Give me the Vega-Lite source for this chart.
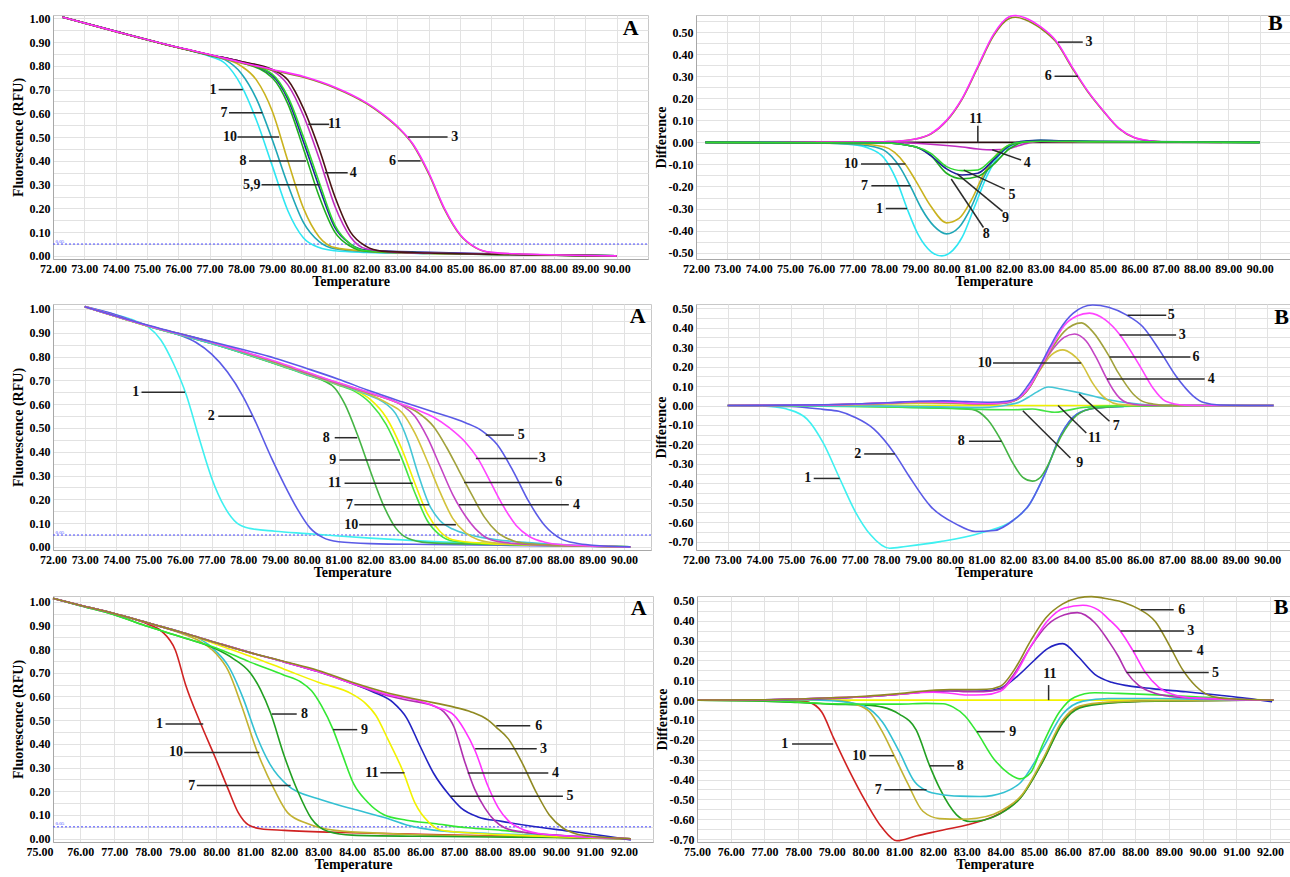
{
"$schema":"https://vega.github.io/schema/vega-lite/v6.json",
"background":"white",
"padding":{"left":10,"top":11,"right":0,"bottom":0},
"spacing":12,
"config":{
"font":"Liberation Serif",
"view":{"stroke":"#c8c8c8","strokeWidth":1},
"axis":{"labelFont":"Liberation Serif","labelFontWeight":"bold","labelFontSize":12,"labelColor":"#000","titleFont":"Liberation Serif","titleFontWeight":"bold","titleFontSize":14,"titleColor":"#000","gridColor":"#e2e2e2","gridWidth":1,"domainColor":"#a8a8a8","ticks":false,"labelPadding":3,"labelOverlap":false},
"axisX":{"titlePadding":0,"labelPadding":4,"labelFlush":false},
"text":{"font":"Liberation Serif","fontWeight":"bold"}
},
"resolve":{"scale":{"x":"independent","y":"independent","color":"independent"}},
"datasets":{
"a1":[
{"s":"1","t":72.3,"v":1.005},{"s":"1","t":74,"v":0.945},{"s":"1","t":75,"v":0.91},{"s":"1","t":76,"v":0.877},{"s":"1","t":77,"v":0.84},{"s":"1","t":77.5,"v":0.81},{"s":"1","t":78,"v":0.72},{"s":"1","t":78.5,"v":0.57},{"s":"1","t":79,"v":0.38},{"s":"1","t":79.5,"v":0.19},{"s":"1","t":80,"v":0.075},{"s":"1","t":80.5,"v":0.035},{"s":"1","t":81,"v":0.022},{"s":"1","t":82,"v":0.015},{"s":"1","t":84,"v":0.01},{"s":"1","t":87,"v":0.005},{"s":"1","t":90,"v":0},
{"s":"7","t":72.3,"v":1.005},{"s":"7","t":74,"v":0.945},{"s":"7","t":76,"v":0.877},{"s":"7","t":77,"v":0.843},{"s":"7","t":77.5,"v":0.825},{"s":"7","t":78,"v":0.77},{"s":"7","t":78.5,"v":0.66},{"s":"7","t":79,"v":0.49},{"s":"7","t":79.5,"v":0.3},{"s":"7","t":80,"v":0.14},{"s":"7","t":80.5,"v":0.06},{"s":"7","t":81,"v":0.03},{"s":"7","t":82,"v":0.018},{"s":"7","t":84,"v":0.01},{"s":"7","t":87,"v":0.005},{"s":"7","t":90,"v":0},
{"s":"10","t":72.3,"v":1.005},{"s":"10","t":74,"v":0.945},{"s":"10","t":76,"v":0.877},{"s":"10","t":77,"v":0.845},{"s":"10","t":78,"v":0.8},{"s":"10","t":78.5,"v":0.74},{"s":"10","t":79,"v":0.61},{"s":"10","t":79.5,"v":0.4},{"s":"10","t":80,"v":0.2},{"s":"10","t":80.5,"v":0.08},{"s":"10","t":81,"v":0.035},{"s":"10","t":82,"v":0.02},{"s":"10","t":84,"v":0.01},{"s":"10","t":87,"v":0.005},{"s":"10","t":90,"v":0},
{"s":"8","t":72.3,"v":1.005},{"s":"8","t":74,"v":0.945},{"s":"8","t":76,"v":0.877},{"s":"8","t":77,"v":0.846},{"s":"8","t":78,"v":0.815},{"s":"8","t":79,"v":0.75},{"s":"8","t":79.5,"v":0.64},{"s":"8","t":80,"v":0.45},{"s":"8","t":80.5,"v":0.25},{"s":"8","t":81,"v":0.1},{"s":"8","t":81.5,"v":0.04},{"s":"8","t":82,"v":0.02},{"s":"8","t":84,"v":0.012},{"s":"8","t":87,"v":0.005},{"s":"8","t":90,"v":0},
{"s":"9","t":72.3,"v":1.005},{"s":"9","t":74,"v":0.945},{"s":"9","t":76,"v":0.877},{"s":"9","t":77,"v":0.846},{"s":"9","t":78,"v":0.817},{"s":"9","t":79,"v":0.76},{"s":"9","t":79.5,"v":0.66},{"s":"9","t":80,"v":0.48},{"s":"9","t":80.5,"v":0.29},{"s":"9","t":81,"v":0.12},{"s":"9","t":81.5,"v":0.05},{"s":"9","t":82,"v":0.025},{"s":"9","t":84,"v":0.015},{"s":"9","t":87,"v":0.006},{"s":"9","t":90,"v":0},
{"s":"5","t":72.3,"v":1.005},{"s":"5","t":74,"v":0.945},{"s":"5","t":76,"v":0.877},{"s":"5","t":77,"v":0.846},{"s":"5","t":78,"v":0.817},{"s":"5","t":79,"v":0.765},{"s":"5","t":79.5,"v":0.67},{"s":"5","t":80,"v":0.5},{"s":"5","t":80.5,"v":0.31},{"s":"5","t":81,"v":0.13},{"s":"5","t":81.5,"v":0.05},{"s":"5","t":82,"v":0.022},{"s":"5","t":84,"v":0.012},{"s":"5","t":87,"v":0.005},{"s":"5","t":90,"v":0},
{"s":"4","t":72.3,"v":1.005},{"s":"4","t":74,"v":0.945},{"s":"4","t":76,"v":0.877},{"s":"4","t":77,"v":0.847},{"s":"4","t":78,"v":0.818},{"s":"4","t":79,"v":0.78},{"s":"4","t":79.5,"v":0.72},{"s":"4","t":80,"v":0.59},{"s":"4","t":80.5,"v":0.41},{"s":"4","t":81,"v":0.21},{"s":"4","t":81.5,"v":0.08},{"s":"4","t":82,"v":0.03},{"s":"4","t":83,"v":0.015},{"s":"4","t":85,"v":0.01},{"s":"4","t":87,"v":0.005},{"s":"4","t":90,"v":0},
{"s":"11","t":72.3,"v":1.005},{"s":"11","t":74,"v":0.945},{"s":"11","t":76,"v":0.877},{"s":"11","t":77,"v":0.847},{"s":"11","t":78,"v":0.818},{"s":"11","t":79,"v":0.785},{"s":"11","t":79.5,"v":0.74},{"s":"11","t":80,"v":0.62},{"s":"11","t":80.5,"v":0.45},{"s":"11","t":81,"v":0.25},{"s":"11","t":81.5,"v":0.1},{"s":"11","t":82,"v":0.04},{"s":"11","t":82.5,"v":0.02},{"s":"11","t":84,"v":0.012},{"s":"11","t":87,"v":0.005},{"s":"11","t":90,"v":0},
{"s":"6","t":72.3,"v":1.005},{"s":"6","t":74,"v":0.944},{"s":"6","t":76,"v":0.876},{"s":"6","t":77,"v":0.846},{"s":"6","t":78,"v":0.812},{"s":"6","t":79,"v":0.782},{"s":"6","t":80,"v":0.752},{"s":"6","t":81,"v":0.707},{"s":"6","t":82,"v":0.642},{"s":"6","t":82.5,"v":0.597},{"s":"6","t":83,"v":0.542},{"s":"6","t":83.5,"v":0.467},{"s":"6","t":84,"v":0.345},{"s":"6","t":84.5,"v":0.196},{"s":"6","t":85,"v":0.088},{"s":"6","t":85.5,"v":0.034},{"s":"6","t":86,"v":0.014},{"s":"6","t":87,"v":0.007},{"s":"6","t":90,"v":0},
{"s":"3","t":72.3,"v":1.005},{"s":"3","t":74,"v":0.945},{"s":"3","t":76,"v":0.878},{"s":"3","t":77,"v":0.848},{"s":"3","t":78,"v":0.815},{"s":"3","t":79,"v":0.785},{"s":"3","t":80,"v":0.755},{"s":"3","t":81,"v":0.71},{"s":"3","t":82,"v":0.645},{"s":"3","t":82.5,"v":0.6},{"s":"3","t":83,"v":0.545},{"s":"3","t":83.5,"v":0.47},{"s":"3","t":84,"v":0.35},{"s":"3","t":84.5,"v":0.2},{"s":"3","t":85,"v":0.09},{"s":"3","t":85.5,"v":0.035},{"s":"3","t":86,"v":0.015},{"s":"3","t":87,"v":0.008},{"s":"3","t":90,"v":0}
],
"la1":[
{"t":77.29,"v":0.7,"t2":78.06,"v2":0.7},{"t":77.62,"v":0.603,"t2":78.69,"v2":0.603},{"t":77.89,"v":0.5,"t2":79.22,"v2":0.5},{"t":78.26,"v":0.4,"t2":80.08,"v2":0.4},{"t":78.66,"v":0.3,"t2":80.52,"v2":0.3},{"t":80.68,"v":0.35,"t2":81.41,"v2":0.35},{"t":80.15,"v":0.554,"t2":80.82,"v2":0.554},{"t":83.34,"v":0.5,"t2":84.6,"v2":0.5},{"t":83.01,"v":0.4,"t2":83.74,"v2":0.4}
],
"ta1":[
{"n":"1","t":77.11,"v":0.7},{"n":"7","t":77.46,"v":0.603},{"n":"10","t":77.65,"v":0.5},{"n":"8","t":78.07,"v":0.4},{"n":"5,9","t":78.35,"v":0.3},{"n":"4","t":81.59,"v":0.35},{"n":"11","t":80.99,"v":0.554},{"n":"3","t":84.83,"v":0.5},{"n":"6","t":82.84,"v":0.4}
],
"b1":[
{"s":"11","t":72.3,"v":0},{"s":"11","t":90,"v":0},
{"s":"6","t":72.3,"v":0},{"s":"6","t":77,"v":0},{"s":"6","t":78,"v":0.003},{"s":"6","t":78.5,"v":0.006},{"s":"6","t":79,"v":0.015},{"s":"6","t":79.5,"v":0.038},{"s":"6","t":80,"v":0.097},{"s":"6","t":80.5,"v":0.197},{"s":"6","t":81,"v":0.34},{"s":"6","t":81.5,"v":0.483},{"s":"6","t":82,"v":0.562},{"s":"6","t":82.2,"v":0.568},{"s":"6","t":82.5,"v":0.558},{"s":"6","t":83,"v":0.518},{"s":"6","t":83.5,"v":0.455},{"s":"6","t":84,"v":0.34},{"s":"6","t":84.5,"v":0.232},{"s":"6","t":85,"v":0.143},{"s":"6","t":85.5,"v":0.064},{"s":"6","t":86,"v":0.021},{"s":"6","t":86.5,"v":0.007},{"s":"6","t":87,"v":0.002},{"s":"6","t":88.8,"v":0},
{"s":"3","t":72.3,"v":0},{"s":"3","t":77,"v":0},{"s":"3","t":78,"v":0.003},{"s":"3","t":78.5,"v":0.006},{"s":"3","t":79,"v":0.015},{"s":"3","t":79.5,"v":0.04},{"s":"3","t":80,"v":0.1},{"s":"3","t":80.5,"v":0.2},{"s":"3","t":81,"v":0.345},{"s":"3","t":81.5,"v":0.49},{"s":"3","t":82,"v":0.57},{"s":"3","t":82.2,"v":0.576},{"s":"3","t":82.5,"v":0.566},{"s":"3","t":83,"v":0.525},{"s":"3","t":83.5,"v":0.46},{"s":"3","t":84,"v":0.345},{"s":"3","t":84.5,"v":0.235},{"s":"3","t":85,"v":0.145},{"s":"3","t":85.5,"v":0.065},{"s":"3","t":86,"v":0.022},{"s":"3","t":86.5,"v":0.007},{"s":"3","t":87,"v":0.002},{"s":"3","t":88.8,"v":0},
{"s":"4","t":72.3,"v":0},{"s":"4","t":78,"v":0},{"s":"4","t":79,"v":-0.004},{"s":"4","t":80,"v":-0.014},{"s":"4","t":80.5,"v":-0.021},{"s":"4","t":81,"v":-0.03},{"s":"4","t":81.5,"v":-0.034},{"s":"4","t":82,"v":-0.028},{"s":"4","t":82.3,"v":-0.015},{"s":"4","t":82.7,"v":0},{"s":"4","t":83,"v":0.004},{"s":"4","t":84,"v":0.003},{"s":"4","t":86,"v":0.001},{"s":"4","t":90,"v":0},
{"s":"1","t":72.3,"v":0},{"s":"1","t":76,"v":-0.003},{"s":"1","t":77,"v":-0.01},{"s":"1","t":77.5,"v":-0.025},{"s":"1","t":78,"v":-0.07},{"s":"1","t":78.4,"v":-0.17},{"s":"1","t":78.74,"v":-0.3},{"s":"1","t":79.1,"v":-0.42},{"s":"1","t":79.5,"v":-0.495},{"s":"1","t":79.85,"v":-0.515},{"s":"1","t":80.2,"v":-0.49},{"s":"1","t":80.5,"v":-0.43},{"s":"1","t":80.9,"v":-0.29},{"s":"1","t":81.3,"v":-0.15},{"s":"1","t":81.7,"v":-0.055},{"s":"1","t":82.1,"v":-0.012},{"s":"1","t":82.5,"v":0.003},{"s":"1","t":83,"v":0.008},{"s":"1","t":84,"v":0.005},{"s":"1","t":85,"v":0.002},{"s":"1","t":90,"v":0},
{"s":"7","t":72.3,"v":0},{"s":"7","t":76,"v":-0.002},{"s":"7","t":77,"v":-0.008},{"s":"7","t":77.5,"v":-0.015},{"s":"7","t":78,"v":-0.035},{"s":"7","t":78.5,"v":-0.11},{"s":"7","t":78.85,"v":-0.2},{"s":"7","t":79.2,"v":-0.3},{"s":"7","t":79.6,"v":-0.38},{"s":"7","t":80,"v":-0.415},{"s":"7","t":80.4,"v":-0.385},{"s":"7","t":80.8,"v":-0.29},{"s":"7","t":81.2,"v":-0.155},{"s":"7","t":81.6,"v":-0.06},{"s":"7","t":82,"v":-0.015},{"s":"7","t":82.5,"v":0.003},{"s":"7","t":83,"v":0.008},{"s":"7","t":85,"v":0.002},{"s":"7","t":90,"v":0},
{"s":"10","t":72.3,"v":0},{"s":"10","t":77,"v":-0.005},{"s":"10","t":78,"v":-0.02},{"s":"10","t":78.69,"v":-0.1},{"s":"10","t":79,"v":-0.17},{"s":"10","t":79.5,"v":-0.29},{"s":"10","t":80,"v":-0.365},{"s":"10","t":80.4,"v":-0.345},{"s":"10","t":80.8,"v":-0.26},{"s":"10","t":81.2,"v":-0.14},{"s":"10","t":81.6,"v":-0.055},{"s":"10","t":82,"v":-0.013},{"s":"10","t":82.5,"v":0.003},{"s":"10","t":83,"v":0.006},{"s":"10","t":85,"v":0.002},{"s":"10","t":90,"v":0},
{"s":"8","t":72.3,"v":0},{"s":"8","t":78,"v":-0.003},{"s":"8","t":79,"v":-0.02},{"s":"8","t":79.5,"v":-0.06},{"s":"8","t":80,"v":-0.14},{"s":"8","t":80.5,"v":-0.165},{"s":"8","t":81,"v":-0.155},{"s":"8","t":81.5,"v":-0.1},{"s":"8","t":82,"v":-0.03},{"s":"8","t":82.5,"v":0.003},{"s":"8","t":83,"v":0.008},{"s":"8","t":85,"v":0.003},{"s":"8","t":90,"v":0},
{"s":"9","t":72.3,"v":0},{"s":"9","t":78,"v":-0.003},{"s":"9","t":79,"v":-0.02},{"s":"9","t":79.5,"v":-0.06},{"s":"9","t":80,"v":-0.12},{"s":"9","t":80.5,"v":-0.148},{"s":"9","t":81,"v":-0.14},{"s":"9","t":81.5,"v":-0.08},{"s":"9","t":82,"v":-0.015},{"s":"9","t":82.5,"v":0.006},{"s":"9","t":83,"v":0.009},{"s":"9","t":84,"v":0.006},{"s":"9","t":90,"v":0},
{"s":"5","t":72.3,"v":0},{"s":"5","t":78,"v":-0.003},{"s":"5","t":79,"v":-0.02},{"s":"5","t":79.5,"v":-0.05},{"s":"5","t":80,"v":-0.11},{"s":"5","t":80.5,"v":-0.128},{"s":"5","t":81,"v":-0.125},{"s":"5","t":81.5,"v":-0.07},{"s":"5","t":82,"v":-0.012},{"s":"5","t":82.5,"v":0.003},{"s":"5","t":83,"v":0.005},{"s":"5","t":90,"v":0}
],
"lb1":[
{"t":83.56,"v":0.455,"t2":84.35,"v2":0.455},{"t":83.45,"v":0.3,"t2":84.2,"v2":0.3},{"t":81,"v":0,"t2":81,"v2":0.075},{"t":81.46,"v":-0.033,"t2":82.38,"v2":-0.08},{"t":80.55,"v":-0.126,"t2":81.86,"v2":-0.212},{"t":80.35,"v":-0.144,"t2":81.79,"v2":-0.313},{"t":80.15,"v":-0.166,"t2":81.18,"v2":-0.386},{"t":77.27,"v":-0.098,"t2":78.69,"v2":-0.098},{"t":77.6,"v":-0.197,"t2":78.85,"v2":-0.197},{"t":78.06,"v":-0.3,"t2":78.74,"v2":-0.3}
],
"tb1":[
{"n":"3","t":84.55,"v":0.455},{"n":"6","t":83.25,"v":0.3},{"n":"11","t":80.94,"v":0.106},{"n":"4","t":82.58,"v":-0.094},{"n":"5","t":82.09,"v":-0.239},{"n":"9","t":81.88,"v":-0.341},{"n":"8","t":81.27,"v":-0.414},{"n":"10","t":76.95,"v":-0.098},{"n":"7","t":77.38,"v":-0.197},{"n":"1","t":77.86,"v":-0.3}
],
"a2":[
{"s":"1","t":73,"v":1.01},{"s":"1","t":74,"v":0.975},{"s":"1","t":74.6,"v":0.95},{"s":"1","t":75,"v":0.925},{"s":"1","t":75.4,"v":0.87},{"s":"1","t":75.8,"v":0.77},{"s":"1","t":76.2,"v":0.64},{"s":"1","t":76.6,"v":0.46},{"s":"1","t":77,"v":0.29},{"s":"1","t":77.4,"v":0.17},{"s":"1","t":77.8,"v":0.1},{"s":"1","t":78.2,"v":0.078},{"s":"1","t":79,"v":0.066},{"s":"1","t":80,"v":0.056},{"s":"1","t":81,"v":0.046},{"s":"1","t":82,"v":0.037},{"s":"1","t":84,"v":0.022},{"s":"1","t":86,"v":0.012},{"s":"1","t":88,"v":0.006},{"s":"1","t":90.2,"v":0},
{"s":"2","t":73,"v":1.01},{"s":"2","t":74,"v":0.975},{"s":"2","t":75,"v":0.928},{"s":"2","t":76,"v":0.89},{"s":"2","t":76.5,"v":0.86},{"s":"2","t":77,"v":0.81},{"s":"2","t":77.5,"v":0.735},{"s":"2","t":78,"v":0.63},{"s":"2","t":78.3,"v":0.55},{"s":"2","t":78.9,"v":0.37},{"s":"2","t":79.3,"v":0.26},{"s":"2","t":79.7,"v":0.16},{"s":"2","t":80.1,"v":0.08},{"s":"2","t":80.5,"v":0.04},{"s":"2","t":81,"v":0.022},{"s":"2","t":82,"v":0.014},{"s":"2","t":84,"v":0.01},{"s":"2","t":88,"v":0.004},{"s":"2","t":90.2,"v":0},
{"s":"8","t":73,"v":1.01},{"s":"8","t":75,"v":0.928},{"s":"8","t":77,"v":0.855},{"s":"8","t":79,"v":0.77},{"s":"8","t":80,"v":0.725},{"s":"8","t":80.5,"v":0.7},{"s":"8","t":80.9,"v":0.665},{"s":"8","t":81.2,"v":0.6},{"s":"8","t":81.6,"v":0.47},{"s":"8","t":82,"v":0.32},{"s":"8","t":82.4,"v":0.18},{"s":"8","t":82.8,"v":0.08},{"s":"8","t":83.2,"v":0.035},{"s":"8","t":83.8,"v":0.018},{"s":"8","t":86,"v":0.01},{"s":"8","t":90.2,"v":0},
{"s":"9","t":73,"v":1.01},{"s":"9","t":75,"v":0.928},{"s":"9","t":77,"v":0.855},{"s":"9","t":79,"v":0.77},{"s":"9","t":80,"v":0.723},{"s":"9","t":81,"v":0.68},{"s":"9","t":81.5,"v":0.655},{"s":"9","t":82,"v":0.605},{"s":"9","t":82.5,"v":0.515},{"s":"9","t":83,"v":0.37},{"s":"9","t":83.4,"v":0.23},{"s":"9","t":83.8,"v":0.11},{"s":"9","t":84.2,"v":0.05},{"s":"9","t":84.6,"v":0.025},{"s":"9","t":85.5,"v":0.015},{"s":"9","t":88,"v":0.006},{"s":"9","t":90.2,"v":0},
{"s":"11","t":73,"v":1.01},{"s":"11","t":75,"v":0.928},{"s":"11","t":77,"v":0.857},{"s":"11","t":79,"v":0.773},{"s":"11","t":80,"v":0.727},{"s":"11","t":81,"v":0.683},{"s":"11","t":81.5,"v":0.66},{"s":"11","t":82,"v":0.62},{"s":"11","t":82.5,"v":0.545},{"s":"11","t":83,"v":0.41},{"s":"11","t":83.4,"v":0.27},{"s":"11","t":83.8,"v":0.14},{"s":"11","t":84.2,"v":0.065},{"s":"11","t":84.6,"v":0.03},{"s":"11","t":85.5,"v":0.016},{"s":"11","t":88,"v":0.006},{"s":"11","t":90.2,"v":0},
{"s":"7","t":73,"v":1.01},{"s":"7","t":75,"v":0.928},{"s":"7","t":77,"v":0.855},{"s":"7","t":79,"v":0.772},{"s":"7","t":80,"v":0.725},{"s":"7","t":81,"v":0.683},{"s":"7","t":82,"v":0.635},{"s":"7","t":82.4,"v":0.61},{"s":"7","t":82.8,"v":0.56},{"s":"7","t":83.2,"v":0.44},{"s":"7","t":83.5,"v":0.31},{"s":"7","t":83.85,"v":0.18},{"s":"7","t":84.2,"v":0.11},{"s":"7","t":84.6,"v":0.075},{"s":"7","t":85,"v":0.055},{"s":"7","t":85.5,"v":0.04},{"s":"7","t":86,"v":0.03},{"s":"7","t":87,"v":0.018},{"s":"7","t":88,"v":0.01},{"s":"7","t":90.2,"v":0},
{"s":"10","t":73,"v":1.01},{"s":"10","t":75,"v":0.93},{"s":"10","t":77,"v":0.86},{"s":"10","t":79,"v":0.775},{"s":"10","t":80,"v":0.728},{"s":"10","t":81,"v":0.685},{"s":"10","t":82,"v":0.64},{"s":"10","t":82.6,"v":0.6},{"s":"10","t":83,"v":0.565},{"s":"10","t":83.4,"v":0.48},{"s":"10","t":83.8,"v":0.36},{"s":"10","t":84.2,"v":0.23},{"s":"10","t":84.6,"v":0.12},{"s":"10","t":85,"v":0.06},{"s":"10","t":85.4,"v":0.03},{"s":"10","t":86,"v":0.016},{"s":"10","t":88,"v":0.006},{"s":"10","t":90.2,"v":0},
{"s":"4","t":73,"v":1.01},{"s":"4","t":75,"v":0.93},{"s":"4","t":77,"v":0.86},{"s":"4","t":79,"v":0.777},{"s":"4","t":80,"v":0.73},{"s":"4","t":81,"v":0.686},{"s":"4","t":82,"v":0.645},{"s":"4","t":83,"v":0.595},{"s":"4","t":83.4,"v":0.55},{"s":"4","t":83.8,"v":0.46},{"s":"4","t":84.2,"v":0.34},{"s":"4","t":84.6,"v":0.22},{"s":"4","t":85,"v":0.13},{"s":"4","t":85.4,"v":0.065},{"s":"4","t":85.8,"v":0.03},{"s":"4","t":86.5,"v":0.015},{"s":"4","t":88,"v":0.006},{"s":"4","t":90.2,"v":0},
{"s":"6","t":73,"v":1.01},{"s":"6","t":75,"v":0.93},{"s":"6","t":77,"v":0.86},{"s":"6","t":79,"v":0.777},{"s":"6","t":80,"v":0.732},{"s":"6","t":81,"v":0.688},{"s":"6","t":82,"v":0.646},{"s":"6","t":83,"v":0.598},{"s":"6","t":83.5,"v":0.565},{"s":"6","t":84,"v":0.505},{"s":"6","t":84.4,"v":0.42},{"s":"6","t":84.8,"v":0.32},{"s":"6","t":85.2,"v":0.22},{"s":"6","t":85.6,"v":0.125},{"s":"6","t":86,"v":0.062},{"s":"6","t":86.5,"v":0.026},{"s":"6","t":87,"v":0.013},{"s":"6","t":88,"v":0.007},{"s":"6","t":90.2,"v":0},
{"s":"3","t":73,"v":1.01},{"s":"3","t":75,"v":0.93},{"s":"3","t":77,"v":0.86},{"s":"3","t":79,"v":0.78},{"s":"3","t":80,"v":0.735},{"s":"3","t":81,"v":0.69},{"s":"3","t":82,"v":0.648},{"s":"3","t":83,"v":0.6},{"s":"3","t":83.5,"v":0.575},{"s":"3","t":84,"v":0.545},{"s":"3","t":84.5,"v":0.5},{"s":"3","t":85,"v":0.44},{"s":"3","t":85.4,"v":0.37},{"s":"3","t":85.8,"v":0.27},{"s":"3","t":86.2,"v":0.17},{"s":"3","t":86.6,"v":0.09},{"s":"3","t":87,"v":0.045},{"s":"3","t":87.5,"v":0.02},{"s":"3","t":88,"v":0.01},{"s":"3","t":90.2,"v":0},
{"s":"5","t":73,"v":1.01},{"s":"5","t":75,"v":0.932},{"s":"5","t":77,"v":0.862},{"s":"5","t":79,"v":0.793},{"s":"5","t":80,"v":0.75},{"s":"5","t":81,"v":0.705},{"s":"5","t":82,"v":0.655},{"s":"5","t":83,"v":0.61},{"s":"5","t":84,"v":0.567},{"s":"5","t":85,"v":0.522},{"s":"5","t":85.5,"v":0.49},{"s":"5","t":86,"v":0.43},{"s":"5","t":86.5,"v":0.32},{"s":"5","t":87,"v":0.19},{"s":"5","t":87.5,"v":0.09},{"s":"5","t":88,"v":0.035},{"s":"5","t":88.5,"v":0.015},{"s":"5","t":89,"v":0.007},{"s":"5","t":90.2,"v":0}
],
"la2":[
{"t":74.79,"v":0.65,"t2":76.16,"v2":0.65},{"t":77.21,"v":0.549,"t2":78.28,"v2":0.549},{"t":80.88,"v":0.459,"t2":81.59,"v2":0.459},{"t":81.03,"v":0.365,"t2":82.94,"v2":0.365},{"t":81.19,"v":0.268,"t2":83.34,"v2":0.268},{"t":81.5,"v":0.177,"t2":83.86,"v2":0.177},{"t":81.65,"v":0.093,"t2":84.7,"v2":0.093},{"t":85.64,"v":0.47,"t2":86.53,"v2":0.47},{"t":85.33,"v":0.372,"t2":87.27,"v2":0.372},{"t":84.96,"v":0.271,"t2":87.74,"v2":0.271},{"t":84.8,"v":0.177,"t2":88.26,"v2":0.177}
],
"ta2":[
{"n":"1","t":74.61,"v":0.65},{"n":"2","t":76.99,"v":0.549},{"n":"8","t":80.61,"v":0.459},{"n":"9","t":80.82,"v":0.365},{"n":"11","t":80.88,"v":0.268},{"n":"7","t":81.35,"v":0.177},{"n":"10","t":81.4,"v":0.093},{"n":"5","t":86.76,"v":0.47},{"n":"3","t":87.42,"v":0.372},{"n":"6","t":87.94,"v":0.271},{"n":"4","t":88.5,"v":0.177}
],
"b2":[
{"s":"11","t":73,"v":0},{"s":"11","t":90.2,"v":0},
{"s":"1","t":73,"v":0},{"s":"1","t":74,"v":-0.002},{"s":"1","t":74.5,"v":-0.008},{"s":"1","t":74.9,"v":-0.02},{"s":"1","t":75.5,"v":-0.07},{"s":"1","t":76,"v":-0.19},{"s":"1","t":76.5,"v":-0.365},{"s":"1","t":77,"v":-0.54},{"s":"1","t":77.5,"v":-0.665},{"s":"1","t":78.1,"v":-0.734},{"s":"1","t":78.6,"v":-0.725},{"s":"1","t":79.7,"v":-0.7},{"s":"1","t":81,"v":-0.654},{"s":"1","t":82,"v":-0.59},{"s":"1","t":82.5,"v":-0.51},{"s":"1","t":83,"v":-0.35},{"s":"1","t":83.5,"v":-0.15},{"s":"1","t":84,"v":-0.045},{"s":"1","t":84.6,"v":-0.013},{"s":"1","t":85.5,"v":-0.005},{"s":"1","t":87,"v":0},{"s":"1","t":90.2,"v":0},
{"s":"2","t":73,"v":0},{"s":"2","t":75,"v":-0.005},{"s":"2","t":76,"v":-0.02},{"s":"2","t":76.5,"v":-0.03},{"s":"2","t":77,"v":-0.06},{"s":"2","t":77.6,"v":-0.12},{"s":"2","t":78.27,"v":-0.25},{"s":"2","t":78.7,"v":-0.36},{"s":"2","t":79.4,"v":-0.52},{"s":"2","t":80.2,"v":-0.61},{"s":"2","t":80.8,"v":-0.648},{"s":"2","t":81.4,"v":-0.643},{"s":"2","t":82,"v":-0.59},{"s":"2","t":82.5,"v":-0.51},{"s":"2","t":83,"v":-0.35},{"s":"2","t":83.5,"v":-0.15},{"s":"2","t":84,"v":-0.045},{"s":"2","t":84.6,"v":-0.013},{"s":"2","t":85.5,"v":-0.004},{"s":"2","t":87,"v":0},{"s":"2","t":90.2,"v":0},
{"s":"8","t":73,"v":0},{"s":"8","t":77,"v":-0.003},{"s":"8","t":79,"v":-0.01},{"s":"8","t":80,"v":-0.013},{"s":"8","t":80.7,"v":-0.02},{"s":"8","t":81.2,"v":-0.075},{"s":"8","t":81.63,"v":-0.184},{"s":"8","t":82,"v":-0.3},{"s":"8","t":82.3,"v":-0.37},{"s":"8","t":82.6,"v":-0.389},{"s":"8","t":82.85,"v":-0.37},{"s":"8","t":83.05,"v":-0.32},{"s":"8","t":83.5,"v":-0.16},{"s":"8","t":84,"v":-0.05},{"s":"8","t":84.5,"v":-0.015},{"s":"8","t":85.5,"v":-0.004},{"s":"8","t":87,"v":0},{"s":"8","t":90.2,"v":0},
{"s":"9","t":73,"v":0},{"s":"9","t":76,"v":-0.003},{"s":"9","t":78,"v":-0.008},{"s":"9","t":80,"v":-0.015},{"s":"9","t":81,"v":-0.02},{"s":"9","t":82,"v":-0.022},{"s":"9","t":82.6,"v":-0.018},{"s":"9","t":83,"v":-0.028},{"s":"9","t":83.3,"v":-0.035},{"s":"9","t":83.7,"v":-0.025},{"s":"9","t":84.2,"v":-0.01},{"s":"9","t":85,"v":-0.003},{"s":"9","t":90.2,"v":0},
{"s":"7","t":73,"v":0},{"s":"7","t":78,"v":-0.003},{"s":"7","t":80,"v":-0.008},{"s":"7","t":81,"v":-0.01},{"s":"7","t":81.5,"v":-0.005},{"s":"7","t":81.8,"v":0.003},{"s":"7","t":82.2,"v":0.018},{"s":"7","t":82.5,"v":0.045},{"s":"7","t":82.75,"v":0.07},{"s":"7","t":83.1,"v":0.095},{"s":"7","t":83.5,"v":0.085},{"s":"7","t":84.1,"v":0.065},{"s":"7","t":84.6,"v":0.045},{"s":"7","t":85,"v":0.03},{"s":"7","t":85.8,"v":0.01},{"s":"7","t":86.5,"v":0.002},{"s":"7","t":90.2,"v":0},
{"s":"10","t":73,"v":0},{"s":"10","t":76,"v":0.002},{"s":"10","t":78,"v":0.008},{"s":"10","t":79,"v":0.012},{"s":"10","t":80,"v":0.01},{"s":"10","t":81,"v":0.005},{"s":"10","t":81.6,"v":0.01},{"s":"10","t":82.1,"v":0.03},{"s":"10","t":82.5,"v":0.09},{"s":"10","t":82.83,"v":0.18},{"s":"10","t":83.2,"v":0.26},{"s":"10","t":83.56,"v":0.286},{"s":"10","t":83.85,"v":0.265},{"s":"10","t":84.14,"v":0.218},{"s":"10","t":84.5,"v":0.115},{"s":"10","t":84.75,"v":0.06},{"s":"10","t":84.95,"v":0.03},{"s":"10","t":85.3,"v":0.006},{"s":"10","t":86,"v":0},{"s":"10","t":90.2,"v":0},
{"s":"4","t":73,"v":0},{"s":"4","t":76,"v":0.003},{"s":"4","t":78,"v":0.012},{"s":"4","t":79,"v":0.018},{"s":"4","t":80,"v":0.015},{"s":"4","t":81,"v":0.008},{"s":"4","t":81.6,"v":0.01},{"s":"4","t":82.1,"v":0.03},{"s":"4","t":82.5,"v":0.09},{"s":"4","t":82.83,"v":0.185},{"s":"4","t":83.2,"v":0.28},{"s":"4","t":83.6,"v":0.35},{"s":"4","t":83.93,"v":0.368},{"s":"4","t":84.3,"v":0.33},{"s":"4","t":84.6,"v":0.25},{"s":"4","t":84.95,"v":0.136},{"s":"4","t":85.15,"v":0.08},{"s":"4","t":85.35,"v":0.038},{"s":"4","t":85.6,"v":0.013},{"s":"4","t":86,"v":0.003},{"s":"4","t":87,"v":0},{"s":"4","t":90.2,"v":0},
{"s":"6","t":73,"v":0},{"s":"6","t":76,"v":0.003},{"s":"6","t":78,"v":0.012},{"s":"6","t":79,"v":0.018},{"s":"6","t":80,"v":0.015},{"s":"6","t":81,"v":0.008},{"s":"6","t":81.6,"v":0.012},{"s":"6","t":82.1,"v":0.03},{"s":"6","t":82.5,"v":0.09},{"s":"6","t":82.83,"v":0.185},{"s":"6","t":83.2,"v":0.29},{"s":"6","t":83.6,"v":0.38},{"s":"6","t":84.15,"v":0.425},{"s":"6","t":84.5,"v":0.38},{"s":"6","t":85.03,"v":0.25},{"s":"6","t":85.3,"v":0.17},{"s":"6","t":85.56,"v":0.105},{"s":"6","t":85.8,"v":0.055},{"s":"6","t":86,"v":0.028},{"s":"6","t":86.4,"v":0.008},{"s":"6","t":87,"v":0},{"s":"6","t":90.2,"v":0},
{"s":"3","t":73,"v":0},{"s":"3","t":76,"v":0.003},{"s":"3","t":78,"v":0.013},{"s":"3","t":79,"v":0.02},{"s":"3","t":80,"v":0.017},{"s":"3","t":81,"v":0.01},{"s":"3","t":81.6,"v":0.013},{"s":"3","t":82.1,"v":0.032},{"s":"3","t":82.5,"v":0.095},{"s":"3","t":82.83,"v":0.19},{"s":"3","t":83.2,"v":0.3},{"s":"3","t":83.6,"v":0.41},{"s":"3","t":84,"v":0.46},{"s":"3","t":84.4,"v":0.475},{"s":"3","t":84.9,"v":0.44},{"s":"3","t":85.35,"v":0.365},{"s":"3","t":85.7,"v":0.28},{"s":"3","t":86,"v":0.2},{"s":"3","t":86.4,"v":0.09},{"s":"3","t":86.8,"v":0.022},{"s":"3","t":87.4,"v":0.002},{"s":"3","t":88,"v":0},{"s":"3","t":90.2,"v":0},
{"s":"5","t":73,"v":0},{"s":"5","t":76,"v":0.004},{"s":"5","t":78,"v":0.014},{"s":"5","t":79,"v":0.022},{"s":"5","t":79.8,"v":0.024},{"s":"5","t":80.5,"v":0.02},{"s":"5","t":81.3,"v":0.017},{"s":"5","t":81.8,"v":0.022},{"s":"5","t":82.1,"v":0.035},{"s":"5","t":82.45,"v":0.1},{"s":"5","t":82.83,"v":0.2},{"s":"5","t":83.15,"v":0.3},{"s":"5","t":83.46,"v":0.39},{"s":"5","t":83.88,"v":0.474},{"s":"5","t":84.5,"v":0.517},{"s":"5","t":85,"v":0.505},{"s":"5","t":85.56,"v":0.466},{"s":"5","t":86.08,"v":0.405},{"s":"5","t":86.6,"v":0.286},{"s":"5","t":87.13,"v":0.15},{"s":"5","t":87.66,"v":0.05},{"s":"5","t":88,"v":0.015},{"s":"5","t":88.5,"v":0.003},{"s":"5","t":90.2,"v":0}
],
"lb2":[
{"t":85.6,"v":0.464,"t2":86.82,"v2":0.464},{"t":85.35,"v":0.363,"t2":87.13,"v2":0.363},{"t":85.03,"v":0.249,"t2":87.58,"v2":0.249},{"t":84.95,"v":0.136,"t2":88.03,"v2":0.136},{"t":81.36,"v":0.218,"t2":84.14,"v2":0.218},{"t":84.07,"v":0.06,"t2":85.03,"v2":-0.081},{"t":83.41,"v":0,"t2":84.3,"v2":-0.141},{"t":82.3,"v":-0.027,"t2":83.8,"v2":-0.27},{"t":80.6,"v":-0.184,"t2":81.63,"v2":-0.184},{"t":77.3,"v":-0.249,"t2":78.27,"v2":-0.249},{"t":75.71,"v":-0.375,"t2":76.53,"v2":-0.375}
],
"tb2":[
{"n":"5","t":86.98,"v":0.464},{"n":"3","t":87.32,"v":0.363},{"n":"6","t":87.76,"v":0.249},{"n":"4","t":88.24,"v":0.136},{"n":"10","t":81.1,"v":0.218},{"n":"7","t":85.24,"v":-0.104},{"n":"11","t":84.56,"v":-0.167},{"n":"9","t":84.09,"v":-0.295},{"n":"8","t":80.36,"v":-0.184},{"n":"2","t":77.1,"v":-0.249},{"n":"1","t":75.52,"v":-0.375}
],
"a3":[
{"s":"1","t":75.2,"v":1.014},{"s":"1","t":76,"v":0.985},{"s":"1","t":77,"v":0.95},{"s":"1","t":78,"v":0.905},{"s":"1","t":78.4,"v":0.875},{"s":"1","t":78.8,"v":0.795},{"s":"1","t":79.1,"v":0.65},{"s":"1","t":79.55,"v":0.484},{"s":"1","t":79.95,"v":0.35},{"s":"1","t":80.35,"v":0.21},{"s":"1","t":80.65,"v":0.11},{"s":"1","t":80.95,"v":0.058},{"s":"1","t":81.3,"v":0.042},{"s":"1","t":82,"v":0.035},{"s":"1","t":84,"v":0.025},{"s":"1","t":86,"v":0.018},{"s":"1","t":88,"v":0.012},{"s":"1","t":90,"v":0.006},{"s":"1","t":92.2,"v":0},
{"s":"10","t":75.2,"v":1.014},{"s":"10","t":76,"v":0.985},{"s":"10","t":77,"v":0.95},{"s":"10","t":78,"v":0.91},{"s":"10","t":79,"v":0.865},{"s":"10","t":79.5,"v":0.835},{"s":"10","t":80,"v":0.78},{"s":"10","t":80.35,"v":0.71},{"s":"10","t":80.75,"v":0.56},{"s":"10","t":81.2,"v":0.37},{"s":"10","t":81.7,"v":0.21},{"s":"10","t":82.1,"v":0.11},{"s":"10","t":82.7,"v":0.063},{"s":"10","t":83.5,"v":0.035},{"s":"10","t":85,"v":0.022},{"s":"10","t":88,"v":0.01},{"s":"10","t":92.2,"v":0},
{"s":"7","t":75.2,"v":1.014},{"s":"7","t":76,"v":0.985},{"s":"7","t":77,"v":0.95},{"s":"7","t":78,"v":0.91},{"s":"7","t":79,"v":0.87},{"s":"7","t":79.5,"v":0.845},{"s":"7","t":80,"v":0.79},{"s":"7","t":80.35,"v":0.73},{"s":"7","t":80.8,"v":0.59},{"s":"7","t":81.2,"v":0.43},{"s":"7","t":81.6,"v":0.31},{"s":"7","t":82.1,"v":0.225},{"s":"7","t":83,"v":0.168},{"s":"7","t":84,"v":0.126},{"s":"7","t":85,"v":0.087},{"s":"7","t":85.6,"v":0.058},{"s":"7","t":86.4,"v":0.036},{"s":"7","t":88,"v":0.022},{"s":"7","t":90,"v":0.012},{"s":"7","t":92.2,"v":0},
{"s":"8","t":75.2,"v":1.014},{"s":"8","t":76,"v":0.983},{"s":"8","t":77,"v":0.945},{"s":"8","t":78,"v":0.895},{"s":"8","t":79,"v":0.85},{"s":"8","t":80,"v":0.8},{"s":"8","t":80.5,"v":0.76},{"s":"8","t":81,"v":0.7},{"s":"8","t":81.3,"v":0.63},{"s":"8","t":81.6,"v":0.53},{"s":"8","t":82,"v":0.35},{"s":"8","t":82.4,"v":0.2},{"s":"8","t":82.8,"v":0.085},{"s":"8","t":83.3,"v":0.03},{"s":"8","t":84,"v":0.015},{"s":"8","t":86,"v":0.01},{"s":"8","t":90,"v":0.005},{"s":"8","t":92.2,"v":0},
{"s":"9","t":75.2,"v":1.014},{"s":"9","t":76,"v":0.983},{"s":"9","t":77,"v":0.945},{"s":"9","t":78,"v":0.895},{"s":"9","t":79,"v":0.85},{"s":"9","t":80,"v":0.805},{"s":"9","t":81,"v":0.745},{"s":"9","t":82,"v":0.69},{"s":"9","t":82.5,"v":0.66},{"s":"9","t":82.8,"v":0.625},{"s":"9","t":83.1,"v":0.56},{"s":"9","t":83.44,"v":0.46},{"s":"9","t":83.7,"v":0.36},{"s":"9","t":84.05,"v":0.23},{"s":"9","t":84.45,"v":0.155},{"s":"9","t":84.95,"v":0.1},{"s":"9","t":85.6,"v":0.078},{"s":"9","t":86.4,"v":0.064},{"s":"9","t":87.4,"v":0.046},{"s":"9","t":88.4,"v":0.035},{"s":"9","t":89.4,"v":0.021},{"s":"9","t":92.2,"v":0},
{"s":"11","t":75.2,"v":1.014},{"s":"11","t":76,"v":0.985},{"s":"11","t":77,"v":0.95},{"s":"11","t":78,"v":0.91},{"s":"11","t":79,"v":0.87},{"s":"11","t":80,"v":0.82},{"s":"11","t":81,"v":0.77},{"s":"11","t":82,"v":0.715},{"s":"11","t":83,"v":0.66},{"s":"11","t":84,"v":0.61},{"s":"11","t":84.4,"v":0.57},{"s":"11","t":84.7,"v":0.52},{"s":"11","t":85.05,"v":0.42},{"s":"11","t":85.5,"v":0.283},{"s":"11","t":85.85,"v":0.15},{"s":"11","t":86.25,"v":0.07},{"s":"11","t":86.6,"v":0.037},{"s":"11","t":87.5,"v":0.024},{"s":"11","t":89,"v":0.014},{"s":"11","t":92.2,"v":0},
{"s":"5","t":75.2,"v":1.014},{"s":"5","t":76,"v":0.985},{"s":"5","t":77,"v":0.95},{"s":"5","t":78,"v":0.91},{"s":"5","t":79,"v":0.87},{"s":"5","t":80,"v":0.827},{"s":"5","t":81,"v":0.785},{"s":"5","t":82,"v":0.746},{"s":"5","t":83,"v":0.705},{"s":"5","t":84,"v":0.655},{"s":"5","t":84.6,"v":0.62},{"s":"5","t":85.2,"v":0.575},{"s":"5","t":85.6,"v":0.51},{"s":"5","t":86,"v":0.39},{"s":"5","t":86.4,"v":0.275},{"s":"5","t":86.85,"v":0.185},{"s":"5","t":87.2,"v":0.13},{"s":"5","t":87.7,"v":0.092},{"s":"5","t":88.4,"v":0.073},{"s":"5","t":89.4,"v":0.05},{"s":"5","t":90.5,"v":0.03},{"s":"5","t":91.5,"v":0.01},{"s":"5","t":92.2,"v":-0.005},
{"s":"4","t":75.2,"v":1.014},{"s":"4","t":76,"v":0.985},{"s":"4","t":77,"v":0.95},{"s":"4","t":78,"v":0.91},{"s":"4","t":79,"v":0.87},{"s":"4","t":80,"v":0.827},{"s":"4","t":81,"v":0.785},{"s":"4","t":82,"v":0.746},{"s":"4","t":83,"v":0.705},{"s":"4","t":84,"v":0.655},{"s":"4","t":85,"v":0.605},{"s":"4","t":85.6,"v":0.585},{"s":"4","t":86.4,"v":0.56},{"s":"4","t":86.7,"v":0.535},{"s":"4","t":87,"v":0.47},{"s":"4","t":87.3,"v":0.33},{"s":"4","t":87.6,"v":0.21},{"s":"4","t":87.9,"v":0.13},{"s":"4","t":88.2,"v":0.075},{"s":"4","t":88.5,"v":0.045},{"s":"4","t":89,"v":0.028},{"s":"4","t":90,"v":0.015},{"s":"4","t":92.2,"v":0},
{"s":"3","t":75.2,"v":1.014},{"s":"3","t":76,"v":0.985},{"s":"3","t":77,"v":0.95},{"s":"3","t":78,"v":0.91},{"s":"3","t":79,"v":0.87},{"s":"3","t":80,"v":0.827},{"s":"3","t":81,"v":0.785},{"s":"3","t":82,"v":0.746},{"s":"3","t":83,"v":0.705},{"s":"3","t":84,"v":0.655},{"s":"3","t":85,"v":0.61},{"s":"3","t":86,"v":0.58},{"s":"3","t":86.5,"v":0.555},{"s":"3","t":87,"v":0.52},{"s":"3","t":87.3,"v":0.46},{"s":"3","t":87.62,"v":0.37},{"s":"3","t":88,"v":0.22},{"s":"3","t":88.3,"v":0.13},{"s":"3","t":88.6,"v":0.075},{"s":"3","t":89,"v":0.04},{"s":"3","t":89.5,"v":0.022},{"s":"3","t":90.5,"v":0.01},{"s":"3","t":92.2,"v":0},
{"s":"6","t":75.2,"v":1.014},{"s":"6","t":76,"v":0.985},{"s":"6","t":77,"v":0.95},{"s":"6","t":78,"v":0.91},{"s":"6","t":79,"v":0.87},{"s":"6","t":80,"v":0.827},{"s":"6","t":81,"v":0.785},{"s":"6","t":82,"v":0.748},{"s":"6","t":83,"v":0.71},{"s":"6","t":84,"v":0.66},{"s":"6","t":85,"v":0.617},{"s":"6","t":86,"v":0.585},{"s":"6","t":87,"v":0.555},{"s":"6","t":87.5,"v":0.535},{"s":"6","t":88,"v":0.5},{"s":"6","t":88.24,"v":0.47},{"s":"6","t":88.6,"v":0.42},{"s":"6","t":89,"v":0.32},{"s":"6","t":89.4,"v":0.2},{"s":"6","t":89.8,"v":0.1},{"s":"6","t":90.2,"v":0.045},{"s":"6","t":90.6,"v":0.02},{"s":"6","t":91.2,"v":0.008},{"s":"6","t":92.2,"v":0}
],
"la3":[
{"t":78.51,"v":0.484,"t2":79.62,"v2":0.484},{"t":79.06,"v":0.364,"t2":81.27,"v2":0.364},{"t":79.43,"v":0.224,"t2":82.19,"v2":0.224},{"t":81.64,"v":0.526,"t2":82.37,"v2":0.526},{"t":83.44,"v":0.46,"t2":84.15,"v2":0.46},{"t":84.83,"v":0.278,"t2":85.54,"v2":0.278},{"t":88.24,"v":0.477,"t2":89.24,"v2":0.477},{"t":87.62,"v":0.379,"t2":89.43,"v2":0.379},{"t":87.4,"v":0.277,"t2":89.77,"v2":0.277},{"t":86.89,"v":0.179,"t2":90.2,"v2":0.179}
],
"ta3":[
{"n":"1","t":78.33,"v":0.484},{"n":"10","t":78.82,"v":0.364},{"n":"7","t":79.28,"v":0.224},{"n":"8","t":82.6,"v":0.526},{"n":"9","t":84.36,"v":0.46},{"n":"11","t":84.58,"v":0.278},{"n":"6","t":89.49,"v":0.477},{"n":"3","t":89.63,"v":0.379},{"n":"4","t":89.98,"v":0.277},{"n":"5","t":90.41,"v":0.179}
],
"b3":[
{"s":"11","t":75,"v":0},{"s":"11","t":92.1,"v":0},
{"s":"1","t":75,"v":0},{"s":"1","t":77,"v":-0.002},{"s":"1","t":78,"v":-0.004},{"s":"1","t":78.3,"v":-0.01},{"s":"1","t":78.7,"v":-0.06},{"s":"1","t":79.05,"v":-0.19},{"s":"1","t":79.5,"v":-0.35},{"s":"1","t":80,"v":-0.51},{"s":"1","t":80.5,"v":-0.645},{"s":"1","t":80.93,"v":-0.709},{"s":"1","t":81.5,"v":-0.685},{"s":"1","t":82.2,"v":-0.658},{"s":"1","t":83.4,"v":-0.611},{"s":"1","t":84,"v":-0.57},{"s":"1","t":84.6,"v":-0.49},{"s":"1","t":85.25,"v":-0.31},{"s":"1","t":85.85,"v":-0.11},{"s":"1","t":86.35,"v":-0.035},{"s":"1","t":87.2,"v":-0.013},{"s":"1","t":88.6,"v":-0.004},{"s":"1","t":92.1,"v":0},
{"s":"8","t":75,"v":0},{"s":"8","t":77,"v":-0.005},{"s":"8","t":78,"v":-0.012},{"s":"8","t":79,"v":-0.02},{"s":"8","t":80,"v":-0.025},{"s":"8","t":80.5,"v":-0.035},{"s":"8","t":81,"v":-0.07},{"s":"8","t":81.5,"v":-0.15},{"s":"8","t":81.9,"v":-0.33},{"s":"8","t":82.2,"v":-0.445},{"s":"8","t":82.7,"v":-0.578},{"s":"8","t":83.1,"v":-0.612},{"s":"8","t":83.5,"v":-0.605},{"s":"8","t":84,"v":-0.572},{"s":"8","t":84.6,"v":-0.492},{"s":"8","t":85.25,"v":-0.312},{"s":"8","t":85.85,"v":-0.115},{"s":"8","t":86.35,"v":-0.04},{"s":"8","t":87.2,"v":-0.015},{"s":"8","t":88.6,"v":-0.005},{"s":"8","t":92.1,"v":0},
{"s":"10","t":75,"v":0},{"s":"10","t":78,"v":0.003},{"s":"10","t":79,"v":0.002},{"s":"10","t":79.5,"v":-0.01},{"s":"10","t":80.1,"v":-0.055},{"s":"10","t":80.5,"v":-0.16},{"s":"10","t":80.85,"v":-0.28},{"s":"10","t":81.25,"v":-0.42},{"s":"10","t":81.7,"v":-0.56},{"s":"10","t":82.2,"v":-0.597},{"s":"10","t":82.8,"v":-0.6},{"s":"10","t":83.3,"v":-0.595},{"s":"10","t":83.8,"v":-0.575},{"s":"10","t":84.2,"v":-0.54},{"s":"10","t":84.6,"v":-0.485},{"s":"10","t":85.25,"v":-0.3},{"s":"10","t":85.85,"v":-0.1},{"s":"10","t":86.35,"v":-0.03},{"s":"10","t":87.2,"v":-0.01},{"s":"10","t":88.6,"v":-0.003},{"s":"10","t":92.1,"v":0},
{"s":"7","t":75,"v":0},{"s":"7","t":78,"v":0.002},{"s":"7","t":79,"v":-0.003},{"s":"7","t":79.5,"v":-0.012},{"s":"7","t":80,"v":-0.033},{"s":"7","t":80.5,"v":-0.11},{"s":"7","t":81,"v":-0.26},{"s":"7","t":81.45,"v":-0.41},{"s":"7","t":81.85,"v":-0.46},{"s":"7","t":82.2,"v":-0.474},{"s":"7","t":82.8,"v":-0.484},{"s":"7","t":83.4,"v":-0.486},{"s":"7","t":84.1,"v":-0.465},{"s":"7","t":84.6,"v":-0.415},{"s":"7","t":85.25,"v":-0.245},{"s":"7","t":85.85,"v":-0.07},{"s":"7","t":86.45,"v":-0.005},{"s":"7","t":87.2,"v":0.008},{"s":"7","t":88.6,"v":0.008},{"s":"7","t":90,"v":0.004},{"s":"7","t":92.1,"v":0},
{"s":"9","t":75,"v":0},{"s":"9","t":77,"v":-0.003},{"s":"9","t":78,"v":-0.01},{"s":"9","t":79,"v":-0.018},{"s":"9","t":80,"v":-0.02},{"s":"9","t":81,"v":-0.02},{"s":"9","t":81.8,"v":-0.016},{"s":"9","t":82.3,"v":-0.018},{"s":"9","t":82.6,"v":-0.035},{"s":"9","t":82.95,"v":-0.08},{"s":"9","t":83.3,"v":-0.16},{"s":"9","t":83.8,"v":-0.295},{"s":"9","t":84.25,"v":-0.37},{"s":"9","t":84.58,"v":-0.397},{"s":"9","t":84.9,"v":-0.365},{"s":"9","t":85.25,"v":-0.225},{"s":"9","t":85.75,"v":-0.06},{"s":"9","t":86.2,"v":0.015},{"s":"9","t":86.8,"v":0.037},{"s":"9","t":87.5,"v":0.034},{"s":"9","t":88.3,"v":0.029},{"s":"9","t":89.8,"v":0.017},{"s":"9","t":91,"v":0.006},{"s":"9","t":92.1,"v":0},
{"s":"5","t":75,"v":0},{"s":"5","t":77,"v":0.002},{"s":"5","t":78,"v":0.005},{"s":"5","t":79,"v":0.01},{"s":"5","t":80,"v":0.017},{"s":"5","t":81,"v":0.03},{"s":"5","t":82,"v":0.045},{"s":"5","t":82.5,"v":0.048},{"s":"5","t":83,"v":0.045},{"s":"5","t":83.5,"v":0.046},{"s":"5","t":84,"v":0.06},{"s":"5","t":84.5,"v":0.12},{"s":"5","t":85,"v":0.2},{"s":"5","t":85.4,"v":0.26},{"s":"5","t":85.85,"v":0.285},{"s":"5","t":86.3,"v":0.22},{"s":"5","t":86.8,"v":0.13},{"s":"5","t":87.3,"v":0.09},{"s":"5","t":87.8,"v":0.072},{"s":"5","t":88.5,"v":0.058},{"s":"5","t":89.5,"v":0.042},{"s":"5","t":90.5,"v":0.025},{"s":"5","t":91.3,"v":0.01},{"s":"5","t":92.06,"v":-0.008},
{"s":"4","t":75,"v":0},{"s":"4","t":77,"v":0.002},{"s":"4","t":78,"v":0.005},{"s":"4","t":79,"v":0.01},{"s":"4","t":80,"v":0.017},{"s":"4","t":81,"v":0.03},{"s":"4","t":82,"v":0.045},{"s":"4","t":82.5,"v":0.048},{"s":"4","t":83,"v":0.043},{"s":"4","t":83.5,"v":0.043},{"s":"4","t":84,"v":0.055},{"s":"4","t":84.4,"v":0.13},{"s":"4","t":84.9,"v":0.27},{"s":"4","t":85.4,"v":0.38},{"s":"4","t":85.9,"v":0.43},{"s":"4","t":86.28,"v":0.441},{"s":"4","t":86.8,"v":0.39},{"s":"4","t":87.2,"v":0.3},{"s":"4","t":87.5,"v":0.22},{"s":"4","t":87.75,"v":0.14},{"s":"4","t":88.1,"v":0.075},{"s":"4","t":88.5,"v":0.04},{"s":"4","t":89,"v":0.02},{"s":"4","t":90,"v":0.008},{"s":"4","t":92.1,"v":0},
{"s":"3","t":75,"v":0},{"s":"3","t":77,"v":0.002},{"s":"3","t":78,"v":0.006},{"s":"3","t":79,"v":0.012},{"s":"3","t":80,"v":0.018},{"s":"3","t":81,"v":0.03},{"s":"3","t":82,"v":0.04},{"s":"3","t":82.5,"v":0.035},{"s":"3","t":83,"v":0.026},{"s":"3","t":83.5,"v":0.027},{"s":"3","t":84,"v":0.045},{"s":"3","t":84.4,"v":0.12},{"s":"3","t":84.9,"v":0.27},{"s":"3","t":85.4,"v":0.4},{"s":"3","t":85.9,"v":0.465},{"s":"3","t":86.45,"v":0.478},{"s":"3","t":86.9,"v":0.455},{"s":"3","t":87.2,"v":0.41},{"s":"3","t":87.55,"v":0.35},{"s":"3","t":87.93,"v":0.25},{"s":"3","t":88.3,"v":0.14},{"s":"3","t":88.7,"v":0.065},{"s":"3","t":89.1,"v":0.03},{"s":"3","t":89.8,"v":0.01},{"s":"3","t":92.1,"v":0},
{"s":"6","t":75,"v":0},{"s":"6","t":77,"v":0.002},{"s":"6","t":78,"v":0.006},{"s":"6","t":79,"v":0.012},{"s":"6","t":80,"v":0.02},{"s":"6","t":81,"v":0.033},{"s":"6","t":82,"v":0.05},{"s":"6","t":82.5,"v":0.054},{"s":"6","t":83,"v":0.053},{"s":"6","t":83.6,"v":0.055},{"s":"6","t":84,"v":0.07},{"s":"6","t":84.4,"v":0.15},{"s":"6","t":84.9,"v":0.3},{"s":"6","t":85.35,"v":0.415},{"s":"6","t":85.85,"v":0.485},{"s":"6","t":86.3,"v":0.515},{"s":"6","t":86.7,"v":0.522},{"s":"6","t":87.2,"v":0.51},{"s":"6","t":87.7,"v":0.49},{"s":"6","t":88.1,"v":0.46},{"s":"6","t":88.6,"v":0.395},{"s":"6","t":89,"v":0.28},{"s":"6","t":89.4,"v":0.155},{"s":"6","t":89.8,"v":0.07},{"s":"6","t":90.2,"v":0.024},{"s":"6","t":90.8,"v":0.007},{"s":"6","t":92.1,"v":0}
],
"lb3":[
{"t":88.17,"v":0.456,"t2":89.14,"v2":0.456},{"t":87.56,"v":0.349,"t2":89.45,"v2":0.349},{"t":87.93,"v":0.248,"t2":89.69,"v2":0.248},{"t":87.74,"v":0.139,"t2":90.18,"v2":0.139},{"t":85.43,"v":0,"t2":85.43,"v2":0.076},{"t":83.3,"v":-0.159,"t2":84.13,"v2":-0.159},{"t":77.82,"v":-0.221,"t2":79.04,"v2":-0.221},{"t":80.11,"v":-0.28,"t2":80.84,"v2":-0.28},{"t":81.9,"v":-0.331,"t2":82.63,"v2":-0.331},{"t":80.56,"v":-0.452,"t2":81.81,"v2":-0.452}
],
"tb3":[
{"n":"6","t":89.38,"v":0.456},{"n":"3","t":89.65,"v":0.349},{"n":"4","t":89.93,"v":0.248},{"n":"5","t":90.38,"v":0.139},{"n":"11","t":85.47,"v":0.131},{"n":"9","t":84.37,"v":-0.159},{"n":"1","t":77.6,"v":-0.221},{"n":"10","t":79.81,"v":-0.28},{"n":"8","t":82.81,"v":-0.331},{"n":"7","t":80.38,"v":-0.452}
]
},
"vconcat":[
{"spacing":4,"resolve":{"scale":{"x":"independent","y":"independent","color":"independent"}},"hconcat":[
{"width":595,"height":244,
"encoding":{"x":{"field":"t","type":"quantitative","title":"Temperature","scale":{"domain":[72,91],"nice":false,"zero":false},"axis":{"values":[72,73,74,75,76,77,78,79,80,81,82,83,84,85,86,87,88,89,90],"format":".2f"}},
"y":{"field":"v","type":"quantitative","title":"Fluorescence (RFU)","scale":{"domain":[-0.013,1.014],"nice":false,"zero":false},"axis":{"titlePadding":4,"values":[0,0.05,0.1,0.15,0.2,0.25,0.3,0.35,0.4,0.45,0.5,0.55,0.6,0.65,0.7,0.75,0.8,0.85,0.9,0.95,1],"labelExpr":"abs(round(datum.value*100)) % 10 == 0 ? ((datum.value < -0.001 ? '-' : '') + format(abs(datum.value), '.2f')) : ''"}}},
"layer":[
{"data":{"values":[{"t":72,"t2":91,"v":0.05}]},"mark":{"type":"rule","color":"#4848ff","strokeWidth":1,"strokeDash":[2,2]},"encoding":{"x2":{"field":"t2"}}},
{"data":{"name":"a1"},"mark":{"type":"line","interpolate":"monotone","strokeWidth":1.6},"encoding":{"color":{"field":"s","type":"nominal","legend":null,"scale":{"domain":["1","3","4","5","6","7","8","9","10","11"],"range":["#2ee6f2","#ff2dff","#c02cc0","#2fd82f","#8a8a1e","#1fa6b6","#1fae1f","#20209c","#c9b21e","#4a1414"]}}}},
{"data":{"name":"la1"},"mark":{"type":"rule","color":"#2b2b2b","strokeWidth":1.5},"encoding":{"x2":{"field":"t2"},"y2":{"field":"v2"}}},
{"data":{"name":"ta1"},"mark":{"type":"text","fontSize":14,"color":"#111"},"encoding":{"text":{"field":"n"}}},
{"data":{"values":[{"n":"A","t":90.45,"v":0.958}]},"mark":{"type":"text","fontSize":22,"color":"#000"},"encoding":{"text":{"field":"n"}}},
{"data":{"values":[{"n":"0.05","t":72.08,"v":0.063}]},"mark":{"type":"text","fontSize":5,"color":"#4848ff","align":"left","fontWeight":"normal"},"encoding":{"text":{"field":"n"}}}
]},
{"width":595,"height":244,
"encoding":{"x":{"field":"t","type":"quantitative","title":"Temperature","scale":{"domain":[72,91],"nice":false,"zero":false},"axis":{"values":[72,73,74,75,76,77,78,79,80,81,82,83,84,85,86,87,88,89,90],"format":".2f"}},
"y":{"field":"v","type":"quantitative","title":"Difference","scale":{"domain":[-0.529,0.578],"nice":false,"zero":false},"axis":{"titlePadding":0,"values":[-0.5,-0.45,-0.4,-0.35,-0.3,-0.25,-0.2,-0.15,-0.1,-0.05,0,0.05,0.1,0.15,0.2,0.25,0.3,0.35,0.4,0.45,0.5,0.55],"labelExpr":"abs(round(datum.value*100)) % 10 == 0 ? ((datum.value < -0.001 ? '-' : '') + format(abs(datum.value), '.2f')) : ''"}}},
"layer":[
{"data":{"name":"b1"},"mark":{"type":"line","interpolate":"monotone","strokeWidth":1.6},"encoding":{"color":{"field":"s","type":"nominal","legend":null,"scale":{"domain":["1","3","4","5","6","7","8","9","10","11"],"range":["#2ee6f2","#ff2dff","#c02cc0","#2fd82f","#8a8a1e","#1fa6b6","#1fae1f","#20209c","#c9b21e","#2a1010"]}}}},
{"data":{"name":"lb1"},"mark":{"type":"rule","color":"#2b2b2b","strokeWidth":1.5},"encoding":{"x2":{"field":"t2"},"y2":{"field":"v2"}}},
{"data":{"name":"tb1"},"mark":{"type":"text","fontSize":14,"color":"#111"},"encoding":{"text":{"field":"n"}}},
{"data":{"values":[{"n":"B","t":90.5,"v":0.541}]},"mark":{"type":"text","fontSize":22,"color":"#000"},"encoding":{"text":{"field":"n"}}}
]}
]},
{"spacing":1,"resolve":{"scale":{"x":"independent","y":"independent","color":"independent"}},"hconcat":[
{"width":598,"height":246,
"encoding":{"x":{"field":"t","type":"quantitative","title":"Temperature","scale":{"domain":[72,90.85],"nice":false,"zero":false},"axis":{"values":[72,73,74,75,76,77,78,79,80,81,82,83,84,85,86,87,88,89,90],"format":".2f"}},
"y":{"field":"v","type":"quantitative","title":"Fluorescence (RFU)","scale":{"domain":[-0.013,1.021],"nice":false,"zero":false},"axis":{"titlePadding":4,"values":[0,0.05,0.1,0.15,0.2,0.25,0.3,0.35,0.4,0.45,0.5,0.55,0.6,0.65,0.7,0.75,0.8,0.85,0.9,0.95,1],"labelExpr":"abs(round(datum.value*100)) % 10 == 0 ? ((datum.value < -0.001 ? '-' : '') + format(abs(datum.value), '.2f')) : ''"}}},
"layer":[
{"data":{"values":[{"t":72,"t2":90.85,"v":0.05}]},"mark":{"type":"rule","color":"#4848ff","strokeWidth":1,"strokeDash":[2,2]},"encoding":{"x2":{"field":"t2"}}},
{"data":{"name":"a2"},"mark":{"type":"line","interpolate":"monotone","strokeWidth":1.6},"encoding":{"color":{"field":"s","type":"nominal","legend":null,"scale":{"domain":["1","2","3","4","5","6","7","8","9","10","11"],"range":["#3ff0f0","#5a5ae6","#ff44ff","#c444c4","#5a5ae6","#a2a23c","#44c6d6","#44b444","#44e444","#d2c23c","#f0f000"]}}}},
{"data":{"name":"la2"},"mark":{"type":"rule","color":"#2b2b2b","strokeWidth":1.5},"encoding":{"x2":{"field":"t2"},"y2":{"field":"v2"}}},
{"data":{"name":"ta2"},"mark":{"type":"text","fontSize":14,"color":"#111"},"encoding":{"text":{"field":"n"}}},
{"data":{"values":[{"n":"A","t":90.43,"v":0.972}]},"mark":{"type":"text","fontSize":22,"color":"#000"},"encoding":{"text":{"field":"n"}}},
{"data":{"values":[{"n":"0.05","t":72.08,"v":0.063}]},"mark":{"type":"text","fontSize":5,"color":"#4848ff","align":"left","fontWeight":"normal"},"encoding":{"text":{"field":"n"}}}
]},
{"width":595,"height":246,
"encoding":{"x":{"field":"t","type":"quantitative","title":"Temperature","scale":{"domain":[72,90.75],"nice":false,"zero":false},"axis":{"values":[72,73,74,75,76,77,78,79,80,81,82,83,84,85,86,87,88,89,90],"format":".2f"}},
"y":{"field":"v","type":"quantitative","title":"Difference","scale":{"domain":[-0.743,0.522],"nice":false,"zero":false},"axis":{"titlePadding":0,"values":[-0.7,-0.65,-0.6,-0.55,-0.5,-0.45,-0.4,-0.35,-0.3,-0.25,-0.2,-0.15,-0.1,-0.05,0,0.05,0.1,0.15,0.2,0.25,0.3,0.35,0.4,0.45,0.5],"labelExpr":"abs(round(datum.value*100)) % 10 == 0 ? ((datum.value < -0.001 ? '-' : '') + format(abs(datum.value), '.2f')) : ''"}}},
"layer":[
{"data":{"name":"b2"},"mark":{"type":"line","interpolate":"monotone","strokeWidth":1.6},"encoding":{"color":{"field":"s","type":"nominal","legend":null,"scale":{"domain":["1","2","3","4","5","6","7","8","9","10","11"],"range":["#3ff0f0","#5a5ae6","#ff44ff","#c444c4","#5a5ae6","#a2a23c","#44c6d6","#44b444","#44e444","#d2c23c","#f0f000"]}}}},
{"data":{"name":"lb2"},"mark":{"type":"rule","color":"#2b2b2b","strokeWidth":1.5},"encoding":{"x2":{"field":"t2"},"y2":{"field":"v2"}}},
{"data":{"name":"tb2"},"mark":{"type":"text","fontSize":14,"color":"#111"},"encoding":{"text":{"field":"n"}}},
{"data":{"values":[{"n":"B","t":90.45,"v":0.457}]},"mark":{"type":"text","fontSize":22,"color":"#000"},"encoding":{"text":{"field":"n"}}}
]}
]},
{"spacing":0,"resolve":{"scale":{"x":"independent","y":"independent","color":"independent"}},"hconcat":[
{"width":600,"height":246,
"encoding":{"x":{"field":"t","type":"quantitative","title":"Temperature","scale":{"domain":[75.2,92.85],"nice":false,"zero":false},"axis":{"values":[75.2,76,77,78,79,80,81,82,83,84,85,86,87,88,89,90,91,92],"labelExpr":"datum.value < 75.5 ? '75.00' : format(datum.value, '.2f')","labelAlign":{"condition":{"test":"datum.value < 75.5","value":"right"},"value":"center"}}},
"y":{"field":"v","type":"quantitative","title":"Fluorescence (RFU)","scale":{"domain":[-0.014,1.024],"nice":false,"zero":false},"axis":{"titlePadding":4,"values":[0,0.05,0.1,0.15,0.2,0.25,0.3,0.35,0.4,0.45,0.5,0.55,0.6,0.65,0.7,0.75,0.8,0.85,0.9,0.95,1],"labelExpr":"abs(round(datum.value*100)) % 10 == 0 ? ((datum.value < -0.001 ? '-' : '') + format(abs(datum.value), '.2f')) : ''"}}},
"layer":[
{"data":{"values":[{"t":75.2,"t2":92.85,"v":0.05}]},"mark":{"type":"rule","color":"#4848ff","strokeWidth":1,"strokeDash":[2,2]},"encoding":{"x2":{"field":"t2"}}},
{"data":{"name":"a3"},"mark":{"type":"line","interpolate":"monotone","strokeWidth":1.6},"encoding":{"color":{"field":"s","type":"nominal","legend":null,"scale":{"domain":["1","3","4","5","6","7","8","9","10","11"],"range":["#d02222","#ff33ff","#b030b0","#2222c2","#908a22","#33c0d2","#22a022","#33e833","#c2b232","#f2f200"]}}}},
{"data":{"name":"la3"},"mark":{"type":"rule","color":"#2b2b2b","strokeWidth":1.5},"encoding":{"x2":{"field":"t2"},"y2":{"field":"v2"}}},
{"data":{"name":"ta3"},"mark":{"type":"text","fontSize":14,"color":"#111"},"encoding":{"text":{"field":"n"}}},
{"data":{"values":[{"n":"A","t":92.43,"v":0.974}]},"mark":{"type":"text","fontSize":22,"color":"#000"},"encoding":{"text":{"field":"n"}}},
{"data":{"values":[{"n":"0.05","t":75.27,"v":0.066}]},"mark":{"type":"text","fontSize":5,"color":"#4848ff","align":"left","fontWeight":"normal"},"encoding":{"text":{"field":"n"}}}
]},
{"width":595,"height":246,
"encoding":{"x":{"field":"t","type":"quantitative","title":"Temperature","scale":{"domain":[75,92.65],"nice":false,"zero":false},"axis":{"values":[75,76,77,78,79,80,81,82,83,84,85,86,87,88,89,90,91,92],"format":".2f"}},
"y":{"field":"v","type":"quantitative","title":"Difference","scale":{"domain":[-0.715,0.525],"nice":false,"zero":false},"axis":{"titlePadding":0,"values":[-0.7,-0.65,-0.6,-0.55,-0.5,-0.45,-0.4,-0.35,-0.3,-0.25,-0.2,-0.15,-0.1,-0.05,0,0.05,0.1,0.15,0.2,0.25,0.3,0.35,0.4,0.45,0.5],"labelExpr":"abs(round(datum.value*100)) % 10 == 0 ? ((datum.value < -0.001 ? '-' : '') + format(abs(datum.value), '.2f')) : ''"}}},
"layer":[
{"data":{"name":"b3"},"mark":{"type":"line","interpolate":"monotone","strokeWidth":1.6},"encoding":{"color":{"field":"s","type":"nominal","legend":null,"scale":{"domain":["1","3","4","5","6","7","8","9","10","11"],"range":["#d02222","#ff33ff","#b030b0","#2222c2","#908a22","#33c0d2","#22a022","#33e833","#c2b232","#f2f200"]}}}},
{"data":{"name":"lb3"},"mark":{"type":"rule","color":"#2b2b2b","strokeWidth":1.5},"encoding":{"x2":{"field":"t2"},"y2":{"field":"v2"}}},
{"data":{"name":"tb3"},"mark":{"type":"text","fontSize":14,"color":"#111"},"encoding":{"text":{"field":"n"}}},
{"data":{"values":[{"n":"B","t":92.33,"v":0.47}]},"mark":{"type":"text","fontSize":22,"color":"#000"},"encoding":{"text":{"field":"n"}}}
]}
]}
]
}
